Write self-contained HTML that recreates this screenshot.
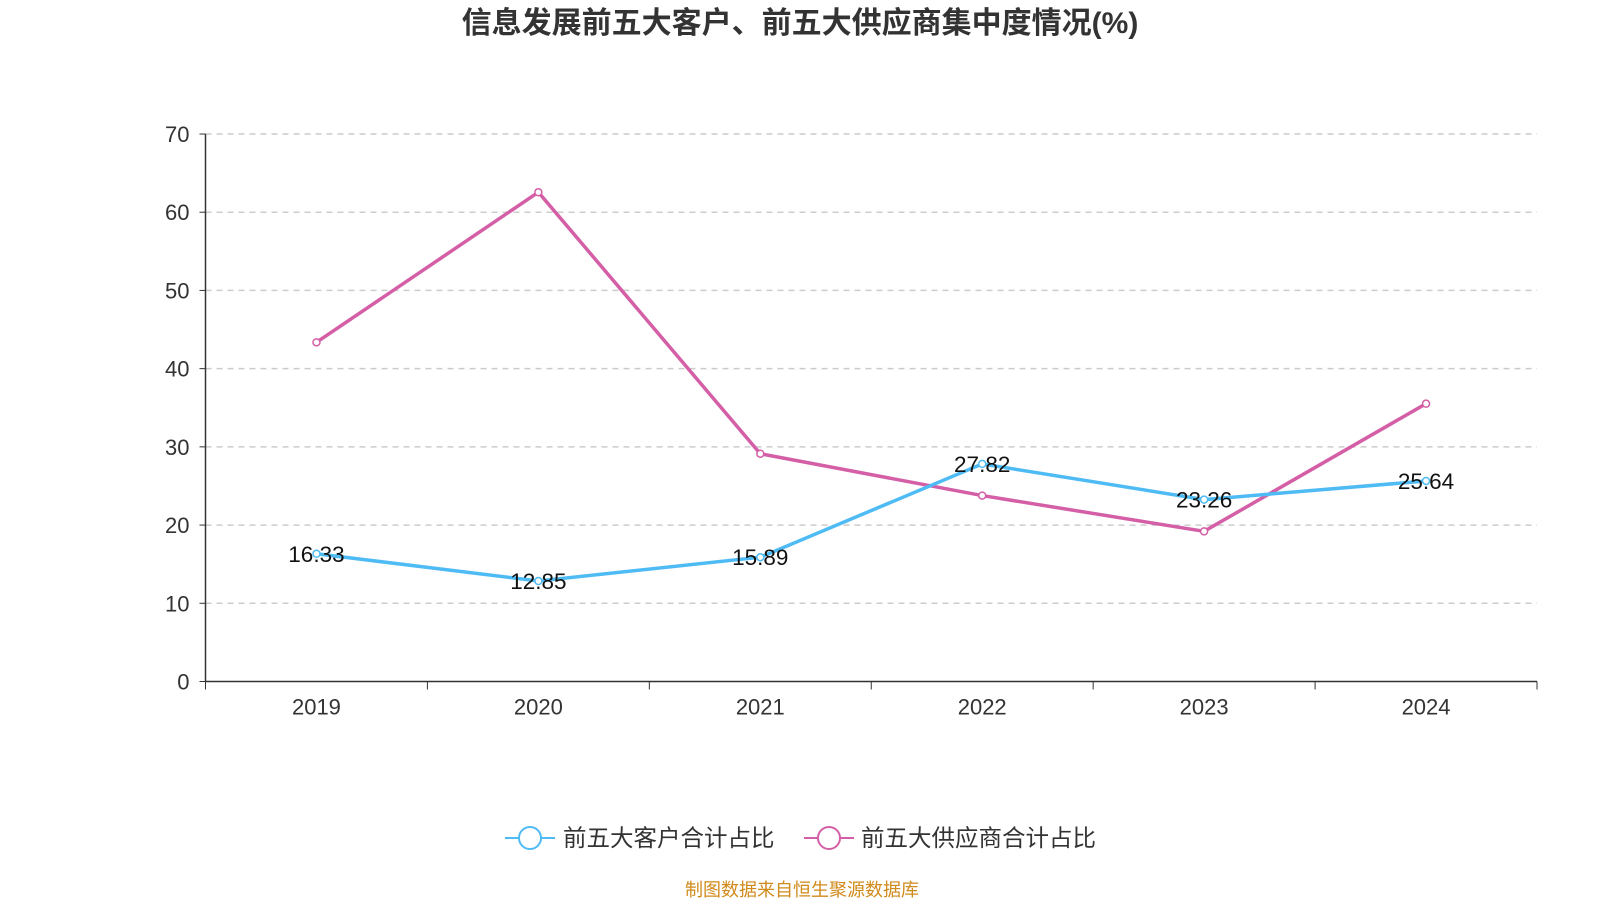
<!DOCTYPE html>
<html><head><meta charset="utf-8">
<style>
body{margin:0;background:#fff;width:1600px;height:900px;overflow:hidden;font-family:"Liberation Sans","Noto Sans CJK SC",sans-serif;}
</style></head>
<body>
<svg id="chart" width="1600" height="900" xmlns="http://www.w3.org/2000/svg" font-family="Liberation Sans, Noto Sans CJK SC, sans-serif">
<text x="800" y="33" text-anchor="middle" font-size="30" font-weight="bold" fill="#333">信息发展前五大客户、前五大供应商集中度情况(%)</text>
<g id="grid"></g><g id="axes"></g><g id="series"></g>
<g>
<g>
<line x1="505" y1="838" x2="555" y2="838" stroke="#4fbbf5" stroke-width="2"/>
<circle cx="530" cy="838" r="11" fill="#fff" stroke="#4fbbf5" stroke-width="2"/>
<text x="563" y="846" font-size="23.5" fill="#333">前五大客户合计占比</text></g>
<g>
<line x1="804" y1="838" x2="854" y2="838" stroke="#d45fa6" stroke-width="2"/>
<circle cx="829" cy="838" r="11" fill="#fff" stroke="#d45fa6" stroke-width="2"/>
<text x="861" y="846" font-size="23.5" fill="#333">前五大供应商合计占比</text></g>
</g>
<text x="802" y="896" text-anchor="middle" font-size="18" fill="#d08a1a">制图数据来自恒生聚源数据库</text>
</svg>
<script>
const categories=["2019","2020","2021","2022","2023","2024"];
const customerValues=[16.33,12.85,15.89,27.82,23.26,25.64];
const supplierValues=[43.36,62.56,29.12,23.77,19.2,35.52];
const yTicks=[0,10,20,30,40,50,60,70];
const NS="http://www.w3.org/2000/svg";
const x0=205.5,x1=1537,yTop=134,yBot=681.5,yMax=70;
const bw=(x1-x0)/categories.length;
const xs=i=>x0+bw*(i+0.5);
const ys=v=>yBot-(v/yMax)*(yBot-yTop);
function mk(tag,attrs,parent){const e=document.createElementNS(NS,tag);for(const k in attrs)e.setAttribute(k,attrs[k]);parent.appendChild(e);return e;}
const grid=document.getElementById('grid'),axes=document.getElementById('axes'),series=document.getElementById('series');
yTicks.forEach(t=>{
 if(t>0){const l=mk('line',{x1:x0,x2:x1,y1:ys(t),y2:ys(t),stroke:'#ccc','stroke-dasharray':'6,5','stroke-width':1.5},grid);
 
 }
 mk('line',{x1:x0-6,x2:x0,y1:ys(t),y2:ys(t),stroke:'#333'},axes);
 const tx=mk('text',{x:x0-16,y:ys(t)+8,'text-anchor':'end','font-size':22,fill:'#333'},axes);tx.textContent=t;
 
 
});
mk('line',{x1:x0,x2:x0,y1:yTop,y2:yBot,stroke:'#333','stroke-width':1.5},axes);
mk('line',{x1:x0,x2:x1,y1:yBot,y2:yBot,stroke:'#333','stroke-width':1.5},axes);
for(let i=0;i<=categories.length;i++)mk('line',{x1:x0+bw*i,x2:x0+bw*i,y1:yBot,y2:yBot+8,stroke:'#333'},axes);
categories.forEach((c,i)=>{const t=mk('text',{x:xs(i),y:yBot+33,'text-anchor':'middle','font-size':22,fill:'#333'},axes);t.textContent=c;
 
 });
function draw(vals,color,name,labels){
 const p=mk('polyline',{points:vals.map((v,i)=>xs(i)+','+ys(v)).join(' '),fill:'none',stroke:color,'stroke-width':3.5},series);
 
 
 vals.forEach((v,i)=>{const c=mk('circle',{cx:xs(i),cy:ys(v),r:3.5,fill:'#fff',stroke:color,'stroke-width':1.5},series);
  
  
  if(labels){const t=mk('text',{x:xs(i),y:ys(v)+8,'text-anchor':'middle','font-size':22.5,fill:'#111'},series);t.textContent=v.toFixed(2);
  
  }
 });
}
draw(supplierValues,'#d45fa6','supplier',false);
draw(customerValues,'#4fbbf5','customer',true);
</script>
</body></html>
